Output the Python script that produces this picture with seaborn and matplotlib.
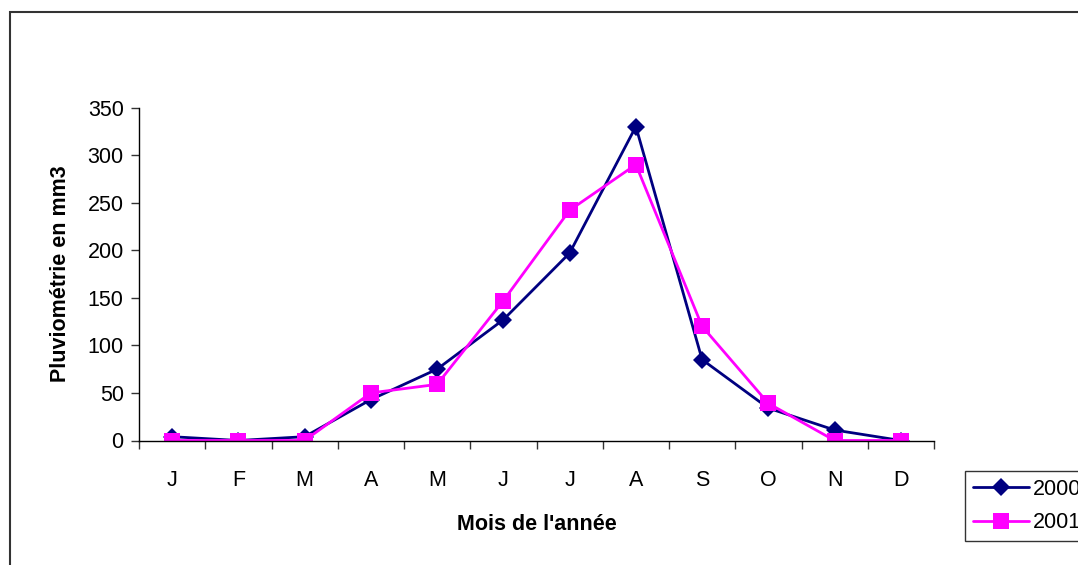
import matplotlib
matplotlib.use("Agg")
import matplotlib.pyplot as plt
from matplotlib.patches import Rectangle
import seaborn as sns
import pandas as pd
import numpy as np

months = ["J", "F", "M", "A", "M", "J", "J", "A", "S", "O", "N", "D"]
rain_2000 = [4, 0, 4, 43, 75, 127, 197, 330, 85, 34, 11, 0]
rain_2001 = [0, 0, 0, 50, 59, 147, 242, 290, 120, 39, 0, 0]
years = ["2000", "2001"]
yticks = [0, 50, 100, 150, 200, 250, 300, 350]

sns.set_theme(style="white")
plt.rcParams["font.family"] = ["Liberation Sans", "DejaVu Sans"]
plt.rcParams["text.color"] = "black"
plt.rcParams["axes.labelcolor"] = "black"
plt.rcParams["xtick.color"] = "black"
plt.rcParams["ytick.color"] = "black"

df = pd.DataFrame({
    "idx": list(range(len(months))) * 2,
    "value": rain_2000 + rain_2001,
    "year": [years[0]] * len(months) + [years[1]] * len(months),
})

W, H = 1078, 565
FS = 15.5
fig = plt.figure(figsize=(W / 100, H / 100), dpi=100)
ax = fig.add_axes([139 / W, 1 - 440.5 / H, (934 - 139) / W, (440.5 - 107.5) / H])

palette = {"2000": "#000080", "2001": "#FF00FF"}
markers = {"2000": "D", "2001": "s"}
sizes = {"2000": 9, "2001": 11}
for yr in years:
    sub = df[df["year"] == yr]
    sns.lineplot(data=sub, x="idx", y="value", ax=ax, color=palette[yr],
                 marker=markers[yr], markersize=sizes[yr], markeredgewidth=0,
                 linewidth=2, label=yr, legend=False)

ax.set_xlim(-0.5, len(months) - 0.5)
ax.set_ylim(0, 350)
ax.set_yticks(yticks)
ax.set_yticklabels([str(v) for v in yticks])
ax.set_xticks(np.arange(-0.5, len(months), 1.0))
ax.set_xticklabels([])
ax.set_xticks(np.arange(len(months)), minor=True)
ax.set_xticklabels(months, minor=True)
ax.tick_params(axis="x", which="major", length=6, width=1, color="#333333", direction="out", bottom=True)
ax.tick_params(axis="x", which="minor", length=0, pad=21, labelsize=FS, bottom=True)
ax.tick_params(axis="y", length=6, width=1, color="#333333", direction="out", labelsize=FS, pad=5, left=True)

for s in ["top", "right"]:
    ax.spines[s].set_visible(False)
for s in ["left", "bottom"]:
    ax.spines[s].set_color("black")
    ax.spines[s].set_linewidth(1)

ax.set_xlabel("Mois de l'année", fontsize=FS, fontweight="bold", labelpad=17)
ax.set_ylabel("Pluviométrie en mm3", fontsize=FS, fontweight="bold", labelpad=12)
ax.grid(False)

# outer frame (clipped by figure edge)
frame = Rectangle((9.5 / W, -0.2), 1.5, 1 - 12 / H + 0.2, transform=fig.transFigure,
                  fill=False, edgecolor="#333333", linewidth=1.5)
fig.patches.append(frame)

handles, labels = ax.get_legend_handles_labels()
leg = fig.legend(handles, labels, loc="upper left", bbox_to_anchor=(965 / W, 1 - 471 / H),
                 bbox_transform=fig.transFigure, frameon=True, fancybox=False,
                 edgecolor="black", fontsize=FS, handlelength=2.6, handletextpad=0.2,
                 labelspacing=0.6, borderpad=0.35, borderaxespad=0)
leg.get_frame().set_linewidth(1)

fig.savefig("out.png", dpi=100)
